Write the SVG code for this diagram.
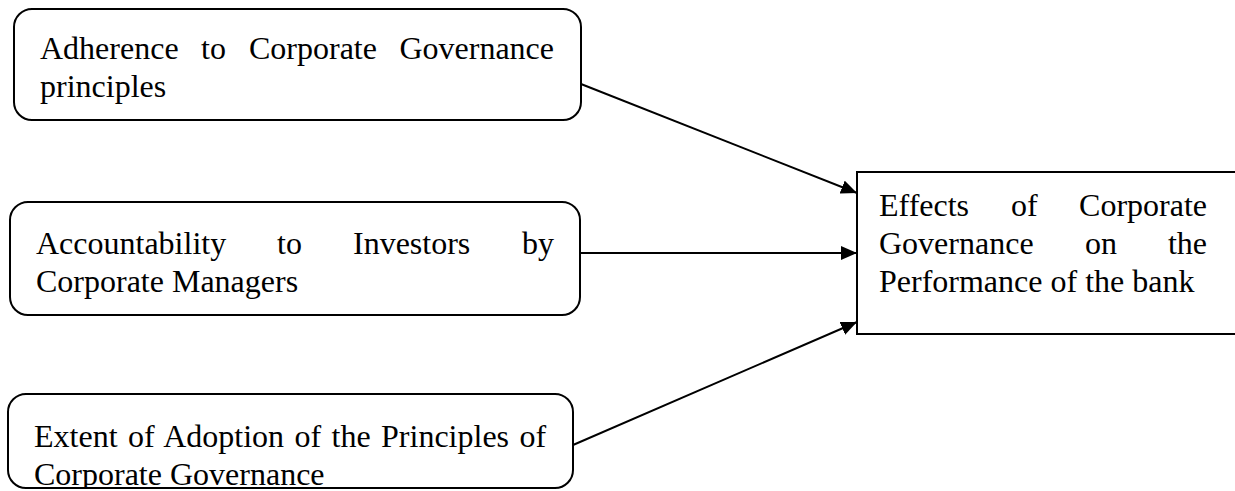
<svg xmlns="http://www.w3.org/2000/svg" width="1235" height="491" viewBox="0 0 1235 491">
  <style>
    .box { fill: #ffffff; stroke: #000000; stroke-width: 2; }
    .lbl { font-family: "Liberation Serif", "Times New Roman", serif; font-size: 32px; fill: #000000; }
    .end { text-anchor: end; }
    .link { stroke: #000000; stroke-width: 2; fill: none; marker-end: url(#head); }
  </style>
  <defs>
    <marker id="head" markerUnits="userSpaceOnUse" markerWidth="17" markerHeight="14" refX="16" refY="7" orient="auto">
      <path d="M0,0 L16,7 L0,14 Z" fill="#000000"/>
    </marker>
    <clipPath id="clip-adoption">
      <rect x="8" y="394" width="565" height="93"/>
    </clipPath>
  </defs>

  <g id="connectors">
    <line class="link" x1="581" y1="84" x2="857" y2="193"/>
    <line class="link" x1="580" y1="253" x2="857" y2="253"/>
    <line class="link" x1="573" y1="445" x2="857" y2="322"/>
  </g>

  <g id="node-adherence">
    <rect class="box" x="14" y="9" width="567" height="111" rx="18"/>
    <text class="lbl" y="59"><tspan x="40">Adherence</tspan><tspan x="201">to</tspan><tspan x="249">Corporate</tspan></text>
    <text class="lbl end" x="554" y="59">Governance</text>
    <text class="lbl" x="40" y="97">principles</text>
  </g>

  <g id="node-accountability">
    <rect class="box" x="10" y="202" width="570" height="113" rx="18"/>
    <text class="lbl" y="254"><tspan x="36">Accountability</tspan><tspan x="277">to</tspan><tspan x="353">Investors</tspan></text>
    <text class="lbl end" x="554" y="254">by</text>
    <text class="lbl" x="36" y="292">Corporate Managers</text>
  </g>

  <g id="node-adoption">
    <rect class="box" x="8" y="394" width="565" height="94" rx="18"/>
    <g clip-path="url(#clip-adoption)">
      <text class="lbl" x="34" y="447" word-spacing="2.4">Extent of Adoption of the Principles of</text>
      <text class="lbl" x="34" y="485">Corporate Governance</text>
    </g>
  </g>

  <g id="node-effects">
    <rect class="box" x="857" y="172" width="400" height="162"/>
    <text class="lbl" y="216"><tspan x="879">Effects</tspan><tspan x="1011">of</tspan></text>
    <text class="lbl end" x="1207" y="216">Corporate</text>
    <text class="lbl" y="254"><tspan x="879">Governance</tspan><tspan x="1085">on</tspan></text>
    <text class="lbl end" x="1207" y="254">the</text>
    <text class="lbl" x="879" y="292">Performance of the bank</text>
  </g>
</svg>
